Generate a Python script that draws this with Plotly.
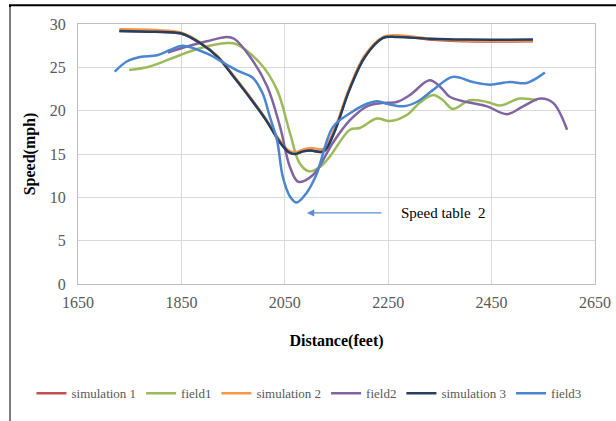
import plotly.graph_objects as go

# simulation runs (distance ft, speed mph)
sim1_x = [1730, 1800, 1850, 1886, 1920, 1950, 1985, 2015, 2040, 2058, 2070, 2085, 2100, 2125, 2145, 2175, 2205, 2240, 2268, 2330, 2400, 2530]
sim1_y = [29.2, 29.1, 28.9, 27.8, 26.2, 24.0, 21.3, 18.8, 16.4, 15.2, 15.0, 15.3, 15.4, 15.3, 17.5, 22.5, 26.3, 28.4, 28.6, 28.2, 28.0, 28.0]

sim2_x = [1730, 1800, 1850, 1886, 1920, 1950, 1985, 2015, 2040, 2058, 2070, 2085, 2100, 2125, 2145, 2175, 2205, 2240, 2268, 2330, 2400, 2530]
sim2_y = [29.4, 29.3, 29.0, 27.9, 26.3, 24.1, 21.4, 18.9, 16.6, 15.4, 15.2, 15.5, 15.7, 15.6, 17.7, 22.6, 26.4, 28.5, 28.7, 28.3, 28.1, 28.1]

sim3_x = [1730, 1800, 1850, 1886, 1920, 1950, 1985, 2015, 2040, 2058, 2070, 2085, 2100, 2125, 2145, 2175, 2205, 2240, 2268, 2330, 2400, 2530]
sim3_y = [29.2, 29.1, 28.9, 27.8, 26.2, 24.0, 21.3, 18.8, 16.4, 15.2, 15.0, 15.3, 15.4, 15.3, 17.4, 22.4, 26.2, 28.4, 28.5, 28.3, 28.2, 28.2]

# field measurements
f1_x = [1749, 1789, 1847, 1886, 1938, 1955, 2002, 2035, 2060, 2079, 2097, 2118, 2137, 2176, 2195, 2228, 2253, 2286, 2311, 2337, 2356, 2375, 2408, 2441, 2466, 2505, 2538]
f1_y = [24.7, 25.1, 26.4, 27.2, 27.8, 27.7, 25.5, 22.4, 17.4, 13.9, 13.0, 13.5, 14.7, 17.8, 18.0, 19.1, 18.8, 19.5, 20.9, 21.8, 21.2, 20.2, 21.2, 21.0, 20.6, 21.4, 21.2]

f2_x = [1824, 1861, 1899, 1938, 1952, 1983, 2016, 2041, 2060, 2076, 2105, 2143, 2176, 2209, 2240, 2267, 2292, 2330, 2350, 2369, 2402, 2441, 2480, 2511, 2544, 2569, 2596]
f2_y = [26.7, 27.4, 28.0, 28.5, 28.3, 26.2, 22.8, 18.1, 13.5, 11.8, 12.6, 16.3, 18.9, 20.5, 20.9, 21.0, 21.8, 23.5, 22.8, 21.6, 21.0, 20.5, 19.6, 20.5, 21.4, 20.9, 17.8]

f3_x = [1721, 1745, 1770, 1803, 1828, 1852, 1899, 1938, 1963, 1988, 2007, 2021, 2035, 2046, 2060, 2073, 2092, 2111, 2143, 2176, 2209, 2228, 2247, 2279, 2305, 2337, 2375, 2414, 2447, 2485, 2518, 2553]
f3_y = [24.5, 25.7, 26.2, 26.4, 27.0, 27.5, 26.6, 25.3, 24.5, 23.8, 22.0, 19.3, 16.6, 12.4, 10.1, 9.4, 10.5, 12.6, 18.1, 19.7, 20.8, 21.1, 20.8, 20.5, 21.0, 22.4, 23.9, 23.3, 23.0, 23.3, 23.2, 24.4]

series = [
    ("simulation 1", sim1_x, sim1_y, "#c0504d"),
    ("field1", f1_x, f1_y, "#9bbb59"),
    ("simulation 2", sim2_x, sim2_y, "#f79646"),
    ("field2", f2_x, f2_y, "#8064a2"),
    ("simulation 3", sim3_x, sim3_y, "#243f60"),
    ("field3", f3_x, f3_y, "#4a86cf"),
]

fig = go.Figure()
for name, xs, ys, col in series:
    fig.add_trace(go.Scatter(x=xs, y=ys, name=name, mode="lines",
                             line=dict(color=col, width=2.5, shape="spline", smoothing=1.0)))

serif = "Liberation Serif, Times New Roman, serif"

fig.update_layout(
    width=616, height=421,
    margin=dict(l=78, r=21, t=24, b=137, autoexpand=False),
    plot_bgcolor="white", paper_bgcolor="white",
    font=dict(family=serif, size=16, color="#595959"),
    legend=dict(orientation="h", x=-0.09, xanchor="left", y=-0.42, yanchor="middle",
                font=dict(family=serif, size=13, color="#595959"),
                itemwidth=30, tracegroupgap=0),
    showlegend=True,
)
fig.update_xaxes(range=[1650, 2650], dtick=200, tick0=1650, showgrid=True, gridcolor="#d9d9d9",
                 showline=True, linecolor="#bfbfbf", mirror=True, zeroline=False,
                 ticks="outside", ticklen=4, tickcolor="rgba(0,0,0,0)",
                 title=dict(text="<b>Distance(feet)</b>", font=dict(family=serif, size=16, color="black"),
                            standoff=24))
fig.update_yaxes(range=[0, 30], dtick=5, showgrid=True, gridcolor="#d9d9d9",
                 showline=True, linecolor="#bfbfbf", mirror=True, zeroline=False,
                 ticks="outside", ticklen=8, tickcolor="rgba(0,0,0,0)",
                 title=dict(text="<b>Speed(mph)</b>", font=dict(family=serif, size=16, color="black"),
                            standoff=10))

# arrow + label
fig.add_annotation(x=2093, y=8.2, ax=2240, ay=8.2, axref="x", ayref="y", xref="x", yref="y",
                   text="", showarrow=True, arrowhead=2, arrowsize=1.2, arrowwidth=1.2,
                   arrowcolor="#5b8fd0")
fig.add_annotation(x=2270, y=8.2, xref="x", yref="y", text="Speed table  2", showarrow=False,
                   xanchor="left", yanchor="middle", font=dict(family=serif, size=15, color="black"))

# outer chart frame (top and left edges visible)
fig.add_shape(type="rect", xref="paper", yref="paper", x0=-0.1315, x1=1.1, y0=-0.6, y1=1.072,
              line=dict(color="black", width=2), fillcolor="rgba(0,0,0,0)", layer="above")
fig.add_shape(type="line", xref="paper", yref="paper", x0=-0.1315, x1=-0.1315, y0=1.065, y1=-0.6,
              line=dict(color="#808080", width=2))

fig.write_html("out.html", post_script="document.body.style.margin='0';",
               config={"displayModeBar": False})
